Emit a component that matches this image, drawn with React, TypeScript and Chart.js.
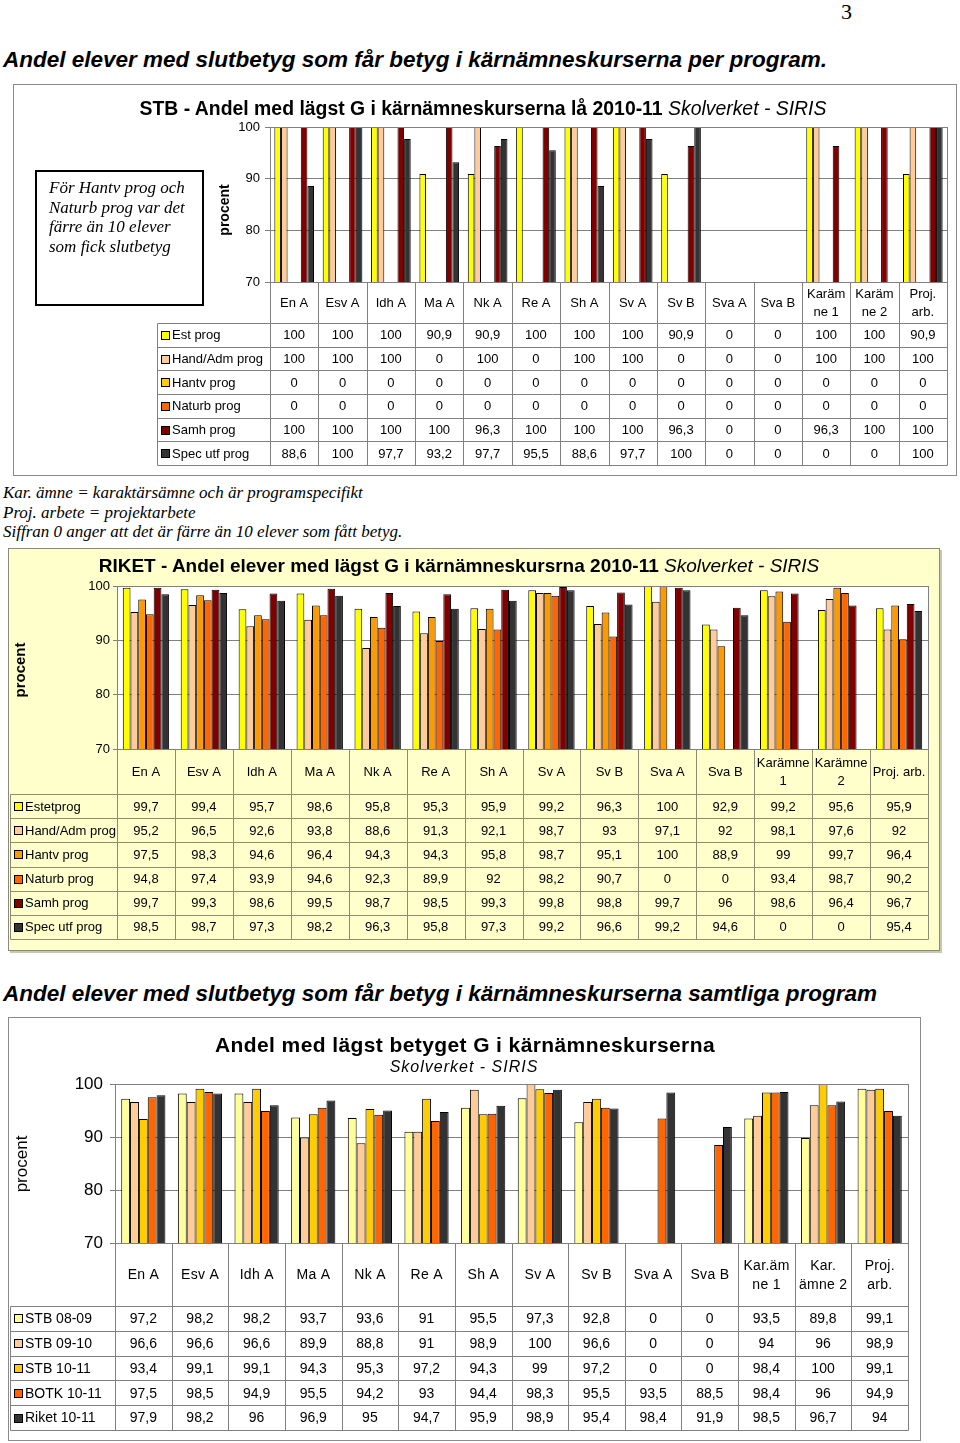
import React, { useEffect, useRef } from "react";
import { Chart, registerables } from "chart.js";

Chart.register(...registerables);

const SANS = "'Liberation Sans', Arial, Helvetica, sans-serif";
const SERIF = "'Liberation Serif', 'Times New Roman', serif";

// ---------- Chart 1: STB per program ----------
const categories1: (string | string[])[] = [
  "En A", "Esv A", "Idh A", "Ma A", "Nk A", "Re A", "Sh A", "Sv A", "Sv B", "Sva A", "Sva B",
  ["Karäm", "ne 1"], ["Karäm", "ne 2"], ["Proj.", "arb."],
];
const stbEst = [100, 100, 100, 90.9, 90.9, 100, 100, 100, 90.9, 0, 0, 100, 100, 90.9];
const stbHandAdm = [100, 100, 100, 0, 100, 0, 100, 100, 0, 0, 0, 100, 100, 100];
const stbHantv = [0, 0, 0, 0, 0, 0, 0, 0, 0, 0, 0, 0, 0, 0];
const stbNaturb = [0, 0, 0, 0, 0, 0, 0, 0, 0, 0, 0, 0, 0, 0];
const stbSamh = [100, 100, 100, 100, 96.3, 100, 100, 100, 96.3, 0, 0, 96.3, 100, 100];
const stbSpec = [88.6, 100, 97.7, 93.2, 97.7, 95.5, 88.6, 97.7, 100, 0, 0, 0, 0, 100];

// ---------- Chart 2: Riket per program ----------
const categories2: (string | string[])[] = [
  "En A", "Esv A", "Idh A", "Ma A", "Nk A", "Re A", "Sh A", "Sv A", "Sv B", "Sva A", "Sva B",
  ["Karämne", "1"], ["Karämne", "2"], "Proj. arb.",
];
const riketEstet = [99.7, 99.4, 95.7, 98.6, 95.8, 95.3, 95.9, 99.2, 96.3, 100, 92.9, 99.2, 95.6, 95.9];
const riketHandAdm = [95.2, 96.5, 92.6, 93.8, 88.6, 91.3, 92.1, 98.7, 93, 97.1, 92, 98.1, 97.6, 92];
const riketHantv = [97.5, 98.3, 94.6, 96.4, 94.3, 94.3, 95.8, 98.7, 95.1, 100, 88.9, 99, 99.7, 96.4];
const riketNaturb = [94.8, 97.4, 93.9, 94.6, 92.3, 89.9, 92, 98.2, 90.7, 0, 0, 93.4, 98.7, 90.2];
const riketSamh = [99.7, 99.3, 98.6, 99.5, 98.7, 98.5, 99.3, 99.8, 98.8, 99.7, 96, 98.6, 96.4, 96.7];
const riketSpec = [98.5, 98.7, 97.3, 98.2, 96.3, 95.8, 97.3, 99.2, 96.6, 99.2, 94.6, 0, 0, 95.4];

// ---------- Chart 3: samtliga program ----------
const categories3: (string | string[])[] = [
  "En A", "Esv A", "Idh A", "Ma A", "Nk A", "Re A", "Sh A", "Sv A", "Sv B", "Sva A", "Sva B",
  ["Kar.äm", "ne 1"], ["Kar.", "ämne 2"], ["Proj.", "arb."],
];
const stb0809 = [97.2, 98.2, 98.2, 93.7, 93.6, 91, 95.5, 97.3, 92.8, 0, 0, 93.5, 89.8, 99.1];
const stb0910 = [96.6, 96.6, 96.6, 89.9, 88.8, 91, 98.9, 100, 96.6, 0, 0, 94, 96, 98.9];
const stb1011 = [93.4, 99.1, 99.1, 94.3, 95.3, 97.2, 94.3, 99, 97.2, 0, 0, 98.4, 100, 99.1];
const botk1011 = [97.5, 98.5, 94.9, 95.5, 94.2, 93, 94.4, 98.3, 95.5, 93.5, 88.5, 98.4, 96, 94.9];
const riket1011 = [97.9, 98.2, 96, 96.9, 95, 94.7, 95.9, 98.9, 95.4, 98.4, 91.9, 98.5, 96.7, 94];

const yTicks = [70, 80, 90, 100];

type Series = { label: string; color: string; data: number[] };
type Layout = {
  box: [number, number, number, number];
  plot: [number, number, number, number];
  catRowBottom: number;
  tableBottom: number;
  labelLeft: number;
};
type Style = {
  tickFont: number;
  catFont: number;
  cellFont: number;
  grid: string;
  tableLine: string;
  plotBg?: string;
  catPct: number;
  yW: number;
  tickLen: number;
  tickPad: number;
  catLetter?: number;
};

const fmt = (v: number) => String(v).replace(".", ",");

function BarChartWithTable(props: {
  categories: (string | string[])[];
  series: Series[];
  layout: Layout;
  style: Style;
}) {
  const { categories, series, layout, style } = props;
  const ref = useRef<HTMLCanvasElement>(null);
  const [bl, bt, br, bb] = layout.box;
  const [pl, pt, pr, pb] = layout.plot;
  const W = br - bl;
  const H = bb - bt;

  useEffect(() => {
    if (!ref.current) return;
    const tablePlugin = {
      id: "dataTable",
      beforeDraw(chart: any) {
        const ctx = chart.ctx;
        const ca = chart.chartArea;
        if (style.plotBg) {
          ctx.save();
          ctx.fillStyle = style.plotBg;
          ctx.fillRect(ca.left, ca.top, ca.right - ca.left, ca.bottom - ca.top);
          ctx.restore();
        }
      },
      afterDraw(chart: any) {
        const ctx = chart.ctx;
        const ca = chart.chartArea;
        const xs = chart.scales.x;
        const n = categories.length;
        const bounds: number[] = [ca.left];
        for (let i = 0; i < n - 1; i++) {
          bounds.push((xs.getPixelForValue(i) + xs.getPixelForValue(i + 1)) / 2);
        }
        bounds.push(ca.right);
        const catB = layout.catRowBottom - bt;
        const tb = layout.tableBottom - bt;
        const lab = layout.labelLeft - bl;
        const rowH = (tb - catB) / series.length;
        const al = (v: number) => Math.round(v) + 0.5;

        ctx.save();
        // plot border
        ctx.strokeStyle = style.grid;
        ctx.lineWidth = 1;
        ctx.strokeRect(al(ca.left), al(ca.top), Math.round(ca.right) - Math.round(ca.left), Math.round(ca.bottom) - Math.round(ca.top));

        // table lines
        ctx.strokeStyle = style.tableLine;
        ctx.beginPath();
        for (const b of bounds) {
          ctx.moveTo(al(b), al(ca.bottom));
          ctx.lineTo(al(b), al(tb));
        }
        ctx.moveTo(al(lab), al(catB));
        ctx.lineTo(al(lab), al(tb));
        for (let r = 0; r <= series.length; r++) {
          const y = al(catB + r * rowH);
          ctx.moveTo(al(lab), y);
          ctx.lineTo(al(ca.right), y);
        }
        ctx.stroke();

        // category labels
        ctx.fillStyle = "#000";
        ctx.textAlign = "center";
        ctx.textBaseline = "middle";
        ctx.font = `${style.catFont}px ${SANS}`;
        const lh = style.catFont * 1.38;
        const cy = (ca.bottom + catB) / 2;
        categories.forEach((c, i) => {
          const lines = Array.isArray(c) ? c : [c];
          const cx = xs.getPixelForValue(i);
          const start = cy - ((lines.length - 1) * lh) / 2;
          lines.forEach((ln, k) => {
            if (style.catLetter) {
              (ctx as any).letterSpacing = `${style.catLetter}px`;
            }
            ctx.fillText(ln, cx + (style.catLetter ? style.catLetter / 2 : 0), start + k * lh + 1);
          });
        });
        (ctx as any).letterSpacing = "0px";

        // rows
        ctx.font = `${style.cellFont}px ${SANS}`;
        series.forEach((s, r) => {
          const y = catB + (r + 0.5) * rowH;
          ctx.fillStyle = s.color;
          ctx.fillRect(lab + 4.5, Math.round(y - 4) + 0.5, 8, 8);
          ctx.strokeStyle = "#000";
          ctx.strokeRect(lab + 4.5, Math.round(y - 4) + 0.5, 8, 8);
          ctx.fillStyle = "#000";
          ctx.textAlign = "left";
          ctx.fillText(s.label, lab + 15, y + 1);
          ctx.textAlign = "center";
          s.data.forEach((v, i) => {
            ctx.fillText(fmt(v), xs.getPixelForValue(i), y + 1);
          });
        });
        ctx.restore();
      },
    };

    const chart = new Chart(ref.current, {
      type: "bar",
      data: {
        labels: categories.map((c) => (Array.isArray(c) ? c.join(" ") : c)),
        datasets: series.map((s) => ({
          label: s.label,
          data: s.data.map((v) => (v === 0 ? null : v)),
          backgroundColor: s.color,
          borderColor: "#000",
          borderWidth: 1,
          categoryPercentage: style.catPct,
          barPercentage: 1,
        })),
      },
      options: {
        animation: false,
        responsive: false,
        maintainAspectRatio: false,
        layout: {
          padding: { left: pl - bl - style.yW, top: pt - bt, right: br - pr, bottom: bb - pb },
        },
        plugins: {
          legend: { display: false },
          title: { display: false },
          tooltip: { enabled: false },
        },
        scales: {
          x: { display: false },
          y: {
            min: yTicks[0],
            max: yTicks[yTicks.length - 1],
            afterBuildTicks: (scale: any) => {
              scale.ticks = yTicks.map((v) => ({ value: v }));
            },
            afterFit: (scale: any) => {
              scale.width = style.yW;
            },
            ticks: {
              color: "#000",
              padding: style.tickPad,
              font: { family: SANS, size: style.tickFont },
            },
            grid: { color: style.grid, tickLength: style.tickLen, lineWidth: 1 },
            border: { color: style.grid },
          },
        },
      } as any,
      plugins: [tablePlugin as any],
    });
    return () => chart.destroy();
  }, []);

  return (
    <canvas
      ref={ref}
      width={W}
      height={H}
      style={{ position: "absolute", left: bl, top: bt, width: W, height: H, zIndex: 1 }}
    />
  );
}

function Txt(props: {
  x: number;
  cy: number;
  size: number;
  children: React.ReactNode;
  style?: React.CSSProperties;
  center?: boolean;
}) {
  const { x, cy, size, children, style, center } = props;
  const lh = Math.round(size * 1.2);
  return (
    <div
      style={{
        position: "absolute",
        left: center ? x - 450 : x,
        width: center ? 900 : undefined,
        textAlign: center ? "center" : "left",
        top: cy - lh / 2,
        fontSize: size,
        lineHeight: `${lh}px`,
        whiteSpace: "nowrap",
        zIndex: 2,
        ...style,
      }}
    >
      {children}
    </div>
  );
}

function Rot(props: { cx: number; cy: number; size: number; bold?: boolean; children: React.ReactNode }) {
  return (
    <div
      style={{
        position: "absolute",
        left: props.cx,
        top: props.cy,
        transform: "translate(-50%, -50%) rotate(-90deg)",
        fontFamily: SANS,
        fontSize: props.size,
        fontWeight: props.bold ? "bold" : "normal",
        whiteSpace: "nowrap",
        zIndex: 2,
      }}
    >
      {props.children}
    </div>
  );
}

const boxDiv = (l: number, t: number, r: number, b: number, extra: React.CSSProperties) => (
  <div
    style={{
      position: "absolute",
      left: l,
      top: t,
      width: r - l,
      height: b - t,
      boxSizing: "border-box",
      ...extra,
    }}
  />
);

export default function App() {
  const series1: Series[] = [
    { label: "Est prog", color: "#FFFF00", data: stbEst },
    { label: "Hand/Adm prog", color: "#FFCC99", data: stbHandAdm },
    { label: "Hantv prog", color: "#FFCC00", data: stbHantv },
    { label: "Naturb prog", color: "#FF6600", data: stbNaturb },
    { label: "Samh prog", color: "#800000", data: stbSamh },
    { label: "Spec utf prog", color: "#333333", data: stbSpec },
  ];
  const series2: Series[] = [
    { label: "Estetprog", color: "#FFFF00", data: riketEstet },
    { label: "Hand/Adm prog", color: "#FFCC99", data: riketHandAdm },
    { label: "Hantv prog", color: "#FF9900", data: riketHantv },
    { label: "Naturb prog", color: "#FF6600", data: riketNaturb },
    { label: "Samh prog", color: "#800000", data: riketSamh },
    { label: "Spec utf prog", color: "#333333", data: riketSpec },
  ];
  const series3: Series[] = [
    { label: "STB 08-09", color: "#FFFF99", data: stb0809 },
    { label: "STB 09-10", color: "#FFCC99", data: stb0910 },
    { label: "STB 10-11", color: "#FFCC00", data: stb1011 },
    { label: "BOTK 10-11", color: "#FF6600", data: botk1011 },
    { label: "Riket 10-11", color: "#333333", data: riket1011 },
  ];

  const titleSans: React.CSSProperties = { fontFamily: SANS, fontWeight: "bold" };
  const italicSans: React.CSSProperties = { fontFamily: SANS, fontStyle: "italic", fontWeight: "normal" };

  return (
    <div style={{ position: "absolute", left: 0, top: 0, width: 960, height: 1443, background: "#fff", overflow: "hidden" }}>
      {/* page number */}
      <Txt x={841} cy={12} size={22} style={{ fontFamily: SERIF }}>3</Txt>

      {/* heading 1 */}
      <Txt x={3} cy={59} size={22.5} style={{ fontFamily: SANS, fontWeight: "bold", fontStyle: "italic" }}>
        Andel elever med slutbetyg som får betyg i kärnämneskurserna per program.
      </Txt>

      {/* ---------- chart 1 ---------- */}
      {boxDiv(13, 84, 957, 476, { border: "1px solid #8a8a8a", background: "#fff" })}
      <BarChartWithTable
        categories={categories1}
        series={series1}
        layout={{ box: [13, 84, 957, 476], plot: [270, 127, 947, 282], catRowBottom: 323, tableBottom: 465, labelLeft: 157 }}
        style={{ tickFont: 13, catFont: 13, cellFont: 13, grid: "#808080", tableLine: "#808080", catPct: 0.82, yW: 40, tickLen: 5, tickPad: 5 }}
      />
      <Txt x={483} cy={108} size={19.4} center style={titleSans}>
        STB - Andel med lägst G i kärnämneskurserna lå 2010-11 <span style={italicSans}>Skolverket - SIRIS</span>
      </Txt>
      {boxDiv(35, 170, 204, 306, { border: "2px solid #000", background: "#fff", zIndex: 2 })}
      <div
        style={{
          position: "absolute",
          left: 49,
          top: 178,
          fontFamily: SERIF,
          fontStyle: "italic",
          fontSize: 17,
          lineHeight: "19.7px",
          zIndex: 3,
          whiteSpace: "nowrap",
        }}
      >
        För Hantv prog och
        <br />
        Naturb prog var det
        <br />
        färre än 10 elever
        <br />
        som fick slutbetyg
      </div>
      <Rot cx={224} cy={210} size={14} bold>procent</Rot>

      {/* notes */}
      <div
        style={{
          position: "absolute",
          left: 3,
          top: 483,
          fontFamily: SERIF,
          fontStyle: "italic",
          fontSize: 17,
          lineHeight: "19.5px",
          whiteSpace: "nowrap",
        }}
      >
        Kar. ämne = karaktärsämne och är programspecifikt
        <br />
        Proj. arbete = projektarbete
        <br />
        Siffran 0 anger att det är färre än 10 elever som fått betyg.
      </div>

      {/* ---------- chart 2 ---------- */}
      {boxDiv(8, 548, 940, 951, { border: "1px solid #8a8a7a", background: "#FFFFCC", boxShadow: "2px 2px 0 #c8c8b0" })}
      <BarChartWithTable
        categories={categories2}
        series={series2}
        layout={{ box: [8, 548, 940, 951], plot: [117, 586, 928, 749], catRowBottom: 794, tableBottom: 939, labelLeft: 10 }}
        style={{ tickFont: 13, catFont: 13, cellFont: 13, grid: "#808080", tableLine: "#8c8c70", plotBg: "#ffffff", catPct: 0.8, yW: 40, tickLen: 4, tickPad: 3 }}
      />
      <Txt x={459} cy={565} size={19} center style={titleSans}>
        RIKET - Andel elever med lägst G i kärnämneskursrna 2010-11 <span style={italicSans}>Skolverket - SIRIS</span>
      </Txt>
      <Rot cx={19} cy={670} size={15} bold>procent</Rot>

      {/* heading 2 */}
      <Txt x={3} cy={993} size={22.5} style={{ fontFamily: SANS, fontWeight: "bold", fontStyle: "italic" }}>
        Andel elever med slutbetyg som får betyg i kärnämneskurserna samtliga program
      </Txt>

      {/* ---------- chart 3 ---------- */}
      {boxDiv(8, 1017, 921, 1441, { border: "1px solid #8a8a8a", background: "#fff" })}
      <BarChartWithTable
        categories={categories3}
        series={series3}
        layout={{ box: [8, 1017, 921, 1441], plot: [115, 1084, 908, 1243], catRowBottom: 1306, tableBottom: 1430, labelLeft: 10 }}
        style={{ tickFont: 17, catFont: 14, cellFont: 14, grid: "#808080", tableLine: "#808080", catPct: 0.78, yW: 50, tickLen: 5, tickPad: 7, catLetter: 0.3 }}
      />
      <Txt x={465} cy={1044} size={21} center style={{ ...titleSans, letterSpacing: "0.4px" }}>
        Andel med lägst betyget G i kärnämneskurserna
      </Txt>
      <Txt x={464} cy={1066} size={16} center style={{ ...italicSans, letterSpacing: "1px" }}>
        Skolverket - SIRIS
      </Txt>
      <Rot cx={22} cy={1164} size={17}>procent</Rot>
    </div>
  );
}
